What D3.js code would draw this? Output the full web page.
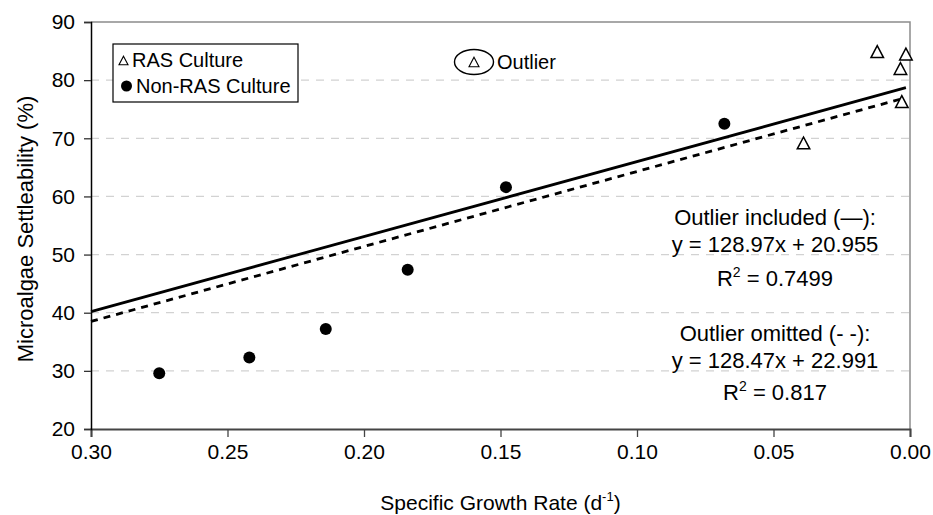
<!DOCTYPE html>
<html>
<head>
<meta charset="utf-8">
<script src="https://cdn.jsdelivr.net/npm/d3@7"></script>
<style>
  body { margin: 0; background: #fff; }
  svg { font-family: "Liberation Sans", Arial, sans-serif; }
</style>
</head>
<body>
<svg width="933" height="515"></svg>
<script>
// RAS culture (open triangles)
var rasRate = [0.012, 0.0015, 0.0035, 0.003, 0.039];
var rasSettle = [84.9, 84.5, 82.0, 76.3, 69.2];

// Non-RAS culture (filled circles)
var nonRasRate = [0.275, 0.242, 0.214, 0.184, 0.148, 0.068];
var nonRasSettle = [29.6, 32.3, 37.2, 47.4, 61.6, 72.5];

// trend lines, end points
var includedRate = [0.30, 0.0015];
var includedSettle = [40.2, 78.7];
var omittedRate = [0.30, 0.003];
var omittedSettle = [38.5, 76.8];

var xTicks = [0.30, 0.25, 0.20, 0.15, 0.10, 0.05, 0.00];
var yTicks = [20, 30, 40, 50, 60, 70, 80, 90];

var svg = d3.select("svg"),
  margin = {top: 22, right: 23, bottom: 86, left: 91},
  width = +svg.attr("width") - margin.left - margin.right,
  height = +svg.attr("height") - margin.top - margin.bottom;

var x = d3.scaleLinear().domain([0.30, 0]).range([0, width]);
var y = d3.scaleLinear().domain([20, 90]).range([height, 0]);

var g = svg.append("g")
  .attr("transform", "translate(" + margin.left + "," + margin.top + ")");

// dashed gridlines
g.selectAll(".grid")
  .data(yTicks.filter(function (d) { return d > 20 && d < 90; }))
  .enter().append("line")
  .attr("x1", 0).attr("x2", width)
  .attr("y1", y).attr("y2", y)
  .attr("stroke", "#d2d2d2")
  .attr("stroke-width", 1.3)
  .attr("stroke-dasharray", "8,7");

// plot border top / right
g.append("path")
  .attr("d", "M0," + y(90) + "H" + width + "V" + y(20))
  .attr("fill", "none")
  .attr("stroke", "#8c8c8c")
  .attr("stroke-width", 1.5);

// axes
var xAxis = g.append("g")
  .attr("transform", "translate(0," + height + ")")
  .call(d3.axisBottom(x).tickValues(xTicks).tickFormat(d3.format(".2f")).tickSize(8).tickPadding(7));
xAxis.select(".domain").attr("stroke", "#444").attr("stroke-width", 2);
xAxis.selectAll(".tick line").attr("stroke", "#444").attr("stroke-width", 1.3);
xAxis.selectAll("text").attr("font-size", 21).attr("fill", "#000").attr("font-family", "Liberation Sans, Arial, sans-serif");

var yAxis = g.append("g")
  .call(d3.axisLeft(y).tickValues(yTicks).tickSize(7).tickPadding(9));
yAxis.select(".domain").attr("stroke", "#000").attr("stroke-width", 1.5);
yAxis.selectAll(".tick line").attr("stroke", "#333").attr("stroke-width", 1.3);
yAxis.selectAll("text").attr("font-size", 21).attr("fill", "#000").attr("font-family", "Liberation Sans, Arial, sans-serif");

// trend lines
var line = d3.line()
  .x(function (d) { return x(d[0]); })
  .y(function (d) { return y(d[1]); });

g.append("path")
  .datum(d3.zip(includedRate, includedSettle))
  .attr("d", line)
  .attr("fill", "none")
  .attr("stroke", "#000")
  .attr("stroke-width", 2.8);

g.append("path")
  .datum(d3.zip(omittedRate, omittedSettle))
  .attr("d", line)
  .attr("fill", "none")
  .attr("stroke", "#000")
  .attr("stroke-width", 2.8)
  .attr("stroke-dasharray", "7,6");

// triangle centred on its box
function tri(s) {
  var h = s * 0.95;
  return "M0," + (-h / 2) + "L" + (s / 2) + "," + (h / 2) + "L" + (-s / 2) + "," + (h / 2) + "Z";
}

g.selectAll(".ras")
  .data(d3.zip(rasRate, rasSettle))
  .enter().append("path")
  .attr("transform", function (d) { return "translate(" + x(d[0]) + "," + y(d[1]) + ")"; })
  .attr("d", tri(12.5))
  .attr("fill", "#fff")
  .attr("stroke", "#000")
  .attr("stroke-width", 1.5);

g.selectAll(".nonras")
  .data(d3.zip(nonRasRate, nonRasSettle))
  .enter().append("circle")
  .attr("cx", function (d) { return x(d[0]); })
  .attr("cy", function (d) { return y(d[1]); })
  .attr("r", 6)
  .attr("fill", "#000");

// legend
var legend = svg.append("g").attr("transform", "translate(113,44)");
legend.append("rect")
  .attr("width", 185).attr("height", 58)
  .attr("fill", "#fff").attr("stroke", "#000").attr("stroke-width", 1.2);
legend.append("path")
  .attr("transform", "translate(10.5,16.5)")
  .attr("d", tri(9))
  .attr("fill", "none").attr("stroke", "#000").attr("stroke-width", 1.1);
legend.append("text").attr("x", 19).attr("y", 23).attr("font-size", 20).text("RAS Culture");
legend.append("circle").attr("cx", 13.5).attr("cy", 42).attr("r", 5.5).attr("fill", "#000");
legend.append("text").attr("x", 23).attr("y", 49).attr("font-size", 20).text("Non-RAS Culture");

// outlier note
var note = svg.append("g").attr("transform", "translate(474,62)");
note.append("ellipse").attr("rx", 19.5).attr("ry", 12.5)
  .attr("fill", "none").attr("stroke", "#000").attr("stroke-width", 1.4);
note.append("path").attr("d", tri(10)).attr("fill", "none").attr("stroke", "#000").attr("stroke-width", 1.1);
note.append("text").attr("x", 23).attr("y", 7).attr("font-size", 20).text("Outlier");

// equations
var eq = svg.append("g").attr("font-size", 22).attr("text-anchor", "middle");
eq.append("text").attr("x", 775).attr("y", 225).text("Outlier included (\u2014):");
eq.append("text").attr("x", 775).attr("y", 252).text("y = 128.97x + 20.955");
var r1 = eq.append("text").attr("x", 775).attr("y", 286);
r1.append("tspan").text("R");
r1.append("tspan").attr("dy", -9).attr("font-size", 14).text("2");
r1.append("tspan").attr("dy", 9).text(" = 0.7499");
eq.append("text").attr("x", 775).attr("y", 341).text("Outlier omitted (- -):");
eq.append("text").attr("x", 775).attr("y", 368).text("y = 128.47x + 22.991");
var r2 = eq.append("text").attr("x", 775).attr("y", 400);
r2.append("tspan").text("R");
r2.append("tspan").attr("dy", -9).attr("font-size", 14).text("2");
r2.append("tspan").attr("dy", 9).text(" = 0.817");

// axis titles
var xt = svg.append("text")
  .attr("x", margin.left + width / 2).attr("y", 510)
  .attr("text-anchor", "middle").attr("font-size", 21);
xt.append("tspan").text("Specific Growth Rate (d");
xt.append("tspan").attr("dy", -9).attr("font-size", 13).text("-1");
xt.append("tspan").attr("dy", 9).text(")");

svg.append("text")
  .attr("transform", "translate(33,229) rotate(-90)")
  .attr("text-anchor", "middle").attr("font-size", 22)
  .text("Microalgae Settleability (%)");
</script>
</body>
</html>
